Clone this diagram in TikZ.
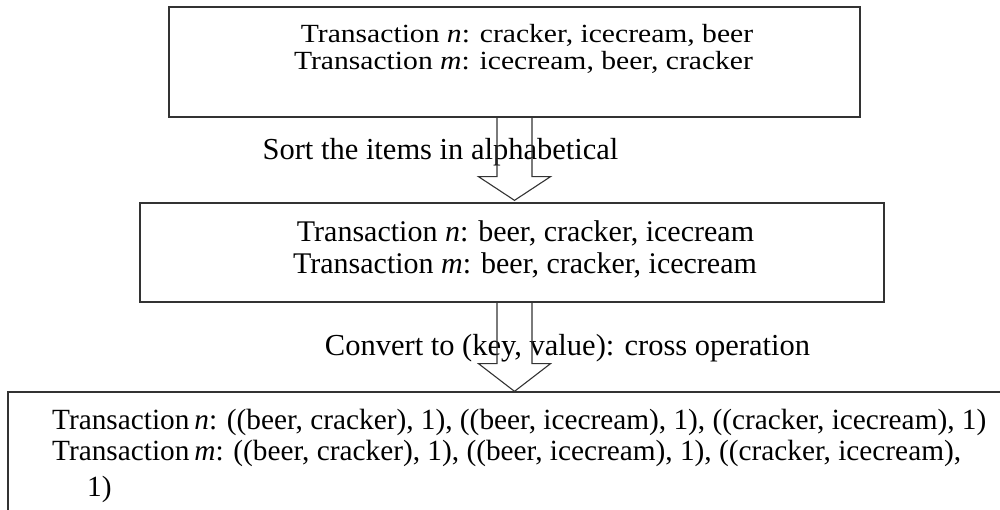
\documentclass[tikz,border=0pt]{standalone}
\usepackage{fontspec}
\setmainfont{Liberation Serif}
\usetikzlibrary{calc}
\newcommand{\wideline}[1]{\scalebox{1.13}[1]{#1}}
\begin{document}
\begin{tikzpicture}[x=1pt,y=-1pt,
  box/.style={draw=black!80, line width=1.3pt, rectangle, inner sep=0pt},
  barrow/.style={draw=black!80, line width=1.1pt, line join=miter},
  txt/.style={anchor=base, inner sep=0pt, font=\fontsize{26.2}{27}\selectfont},
  txtb/.style={anchor=base, inner sep=0pt, font=\fontsize{30}{30}\selectfont},
  lbl/.style={anchor=base, inner sep=0pt, font=\fontsize{30.5}{30}\selectfont},
  txtl/.style={anchor=base west, inner sep=0pt, font=\fontsize{29.3}{30}\selectfont}]
\clip (0,0) rectangle (1000,510);
\fill[white] (0,0) rectangle (1000,510);
% boxes
\node[box, minimum width=691pt, minimum height=110pt] (b1) at (514.5,62) {};
\node[box, minimum width=744pt, minimum height=99pt] (b2) at (512,252.5) {};
\node[box, minimum width=1007pt, minimum height=138pt] (b3) at (511.5,461) {};
% arrow anchor points
\coordinate (a1) at (b1.south);
\coordinate (t1) at ($(a1 |- b2.north)+(0,-2)$);
\coordinate (a2) at (a1 |- b2.south);
\coordinate (t2) at (a1 |- b3.north);
% texts
\node[txt] (l1a) at (527,43) {\wideline{Transaction \textit{n}: cracker, icecream, beer}};
\node[txt] (l1b) at (523.5,70) {\wideline{Transaction \textit{m}: icecream, beer, cracker}};
\node[lbl] (s1) at (440.5,160) {Sort the items in alphabetical};
\node[txtb] (l2a) at (525.5,242) {Transaction \textit{n}: beer, cracker, icecream};
\node[txtb] (l2b) at (525,273) {Transaction \textit{m}: beer, cracker, icecream};
\node[lbl] (s2) at (567.5,355) {Convert to (key, value): cross operation};
\node[txtl] (l3a) at (52,429) {Transaction\,\textit{n}: ((beer, cracker), 1), ((beer, icecream), 1), ((cracker, icecream), 1)};
\node[txtl] (l3b) at (52,460) {Transaction\,\textit{m}: ((beer, cracker), 1), ((beer, icecream), 1), ((cracker, icecream),};
\node[txtl] (l3c) at (87,496) {1)};
% block arrows
\draw[barrow] ($(a1)+(-17.5,0)$) -- ($(a1)+(-17.5,59)$) -- ($(a1)+(-36,59)$) -- (t1)
  -- ($(a1)+(36,59)$) -- ($(a1)+(17.5,59)$) -- ($(a1)+(17.5,0)$);
\draw[barrow] ($(a2)+(-17.5,0)$) -- ($(a2)+(-17.5,61)$) -- ($(a2)+(-36,61)$) -- (t2)
  -- ($(a2)+(36,61)$) -- ($(a2)+(17.5,61)$) -- ($(a2)+(17.5,0)$);
\end{tikzpicture}
\end{document}
